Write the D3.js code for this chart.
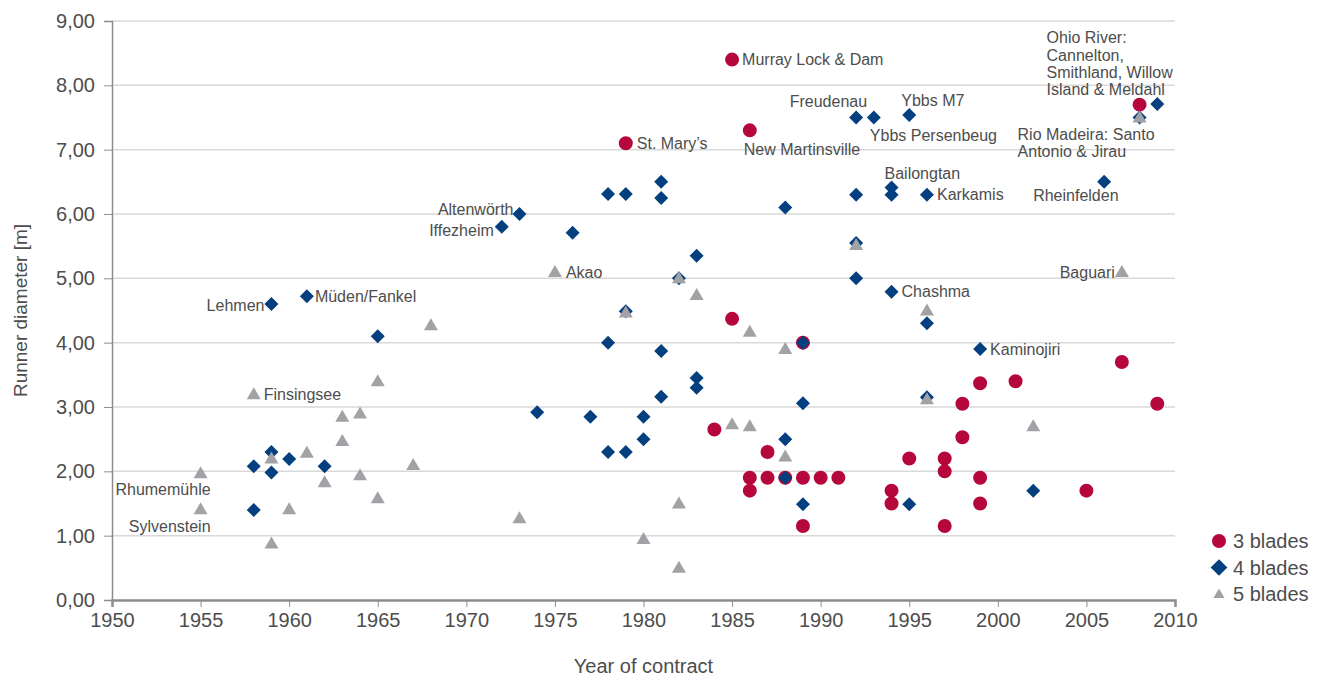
<!DOCTYPE html>
<html lang="en">
<head>
    <meta charset="utf-8" />
    <title>Runner diameter by year of contract</title>
    <script src="https://d3js.org/d3.v7.min.js"></script>
    <style>
        body {
            margin: 0;
            background: white;
        }
        text {
            font-family: 'Liberation Sans', Arial, sans-serif;
            fill: #4d4d4d;
        }
        .grid line {
            stroke: #d9d9d9;
            stroke-width: 1.5;
        }
        .axis path, .axis line {
            stroke: #8c8c8c;
        }
        .axis text {
            font-size: 20px;
            fill: #4d4d4d;
        }
        .note {
            font-size: 16px;
        }
    </style>
</head>
<body>
    <script>

        // Runner diameter [m] by year of contract, one list per blade count
        const threeBlades = [
            [1979, 7.1], [1985, 8.4], [1986, 7.3], [1985, 4.37], [1989, 4.0],
            [1984, 2.65], [1987, 2.3], [1986, 1.9], [1986, 1.7], [1987, 1.9],
            [1988, 1.9], [1989, 1.9], [1990, 1.9], [1991, 1.9], [1989, 1.15],
            [1994, 1.7], [1994, 1.5], [1995, 2.2], [1997, 2.2], [1997, 2.0],
            [1997, 1.15], [1998, 3.05], [1998, 2.53], [1999, 3.37], [1999, 1.9],
            [1999, 1.5], [2001, 3.4], [2005, 1.7], [2007, 3.7], [2008, 7.7],
            [2009, 3.05]
        ];

        const fourBlades = [
            [1958, 2.08], [1958, 1.4], [1959, 4.6], [1959, 2.3], [1959, 1.98],
            [1960, 2.19], [1961, 4.72], [1962, 2.08], [1965, 4.1], [1972, 5.8],
            [1973, 6.0], [1974, 2.92], [1976, 5.71], [1977, 2.85], [1978, 6.31],
            [1978, 4.0], [1978, 2.3], [1979, 6.31], [1979, 4.49], [1979, 2.3],
            [1980, 2.85], [1980, 2.5], [1981, 6.5], [1981, 6.25], [1981, 3.87],
            [1981, 3.16], [1982, 5.0], [1983, 5.35], [1983, 3.45], [1983, 3.3],
            [1988, 6.1], [1988, 2.5], [1988, 1.9], [1989, 4.0], [1989, 3.06],
            [1989, 1.49], [1992, 7.5], [1992, 6.3], [1992, 5.55], [1992, 5.0],
            [1993, 7.5], [1994, 6.41], [1994, 6.3], [1994, 4.79], [1995, 7.54],
            [1995, 1.49], [1996, 6.3], [1996, 4.3], [1996, 3.15], [1999, 3.9],
            [2002, 1.7], [2006, 6.5], [2008, 7.5], [2009, 7.71]
        ];

        const fiveBlades = [
            [1955, 1.97], [1955, 1.41], [1958, 3.2], [1959, 2.2], [1959, 0.88],
            [1960, 1.41], [1961, 2.29], [1962, 1.83], [1963, 2.85], [1963, 2.47],
            [1964, 2.9], [1964, 1.94], [1965, 3.4], [1965, 1.58], [1967, 2.1],
            [1968, 4.27], [1973, 1.27], [1975, 5.1], [1979, 4.47], [1980, 0.95],
            [1982, 5.0], [1982, 1.5], [1982, 0.5], [1983, 4.74], [1985, 2.73],
            [1986, 4.17], [1986, 2.7], [1988, 3.9], [1988, 2.23], [1992, 5.52],
            [1996, 4.5], [1996, 3.12], [2002, 2.7], [2007, 5.1], [2008, 7.5]
        ];

        const seriesNames = ["3 blades", "4 blades", "5 blades"];

        // Plant names written next to their points: [text lines, year, diameter]
        const plantNames = [
            [["Murray Lock & Dam"], 1985, 8.4],
            [["St. Mary’s"], 1979, 7.1],
            [["New Martinsville"], 1986, 7.3],
            [["Freudenau"], 1992, 7.5],
            [["Ybbs M7"], 1995, 7.54],
            [["Ybbs Persenbeug"], 1993, 7.5],
            [["Ohio River:", "Cannelton,", "Smithland, Willow", "Island & Meldahl"], 2008, 7.7],
            [["Rio Madeira: Santo", "Antonio & Jirau"], 2008, 7.5],
            [["Bailongtan"], 1994, 6.41],
            [["Karkamis"], 1996, 6.3],
            [["Rheinfelden"], 2006, 6.5],
            [["Baguari"], 2007, 5.1],
            [["Chashma"], 1994, 4.79],
            [["Kaminojiri"], 1999, 3.9],
            [["Akao"], 1975, 5.1],
            [["Altenwörth"], 1973, 6.0],
            [["Iffezheim"], 1972, 5.8],
            [["Lehmen"], 1959, 4.6],
            [["Müden/Fankel"], 1961, 4.72],
            [["Finsingsee"], 1958, 3.2],
            [["Rhumemühle"], 1955, 1.97],
            [["Sylvenstein"], 1955, 1.41]
        ];

        // where each name sits relative to its point (same order as plantNames)
        const namePlacement = [
            ["start", 10, 0], ["start", 11, 0], ["start", -6, 19], ["end", 11, -16],
            ["start", -8, -15], ["start", -4, 18], ["start", -93, -67], ["start", -122, 17],
            ["start", -7, -14], ["start", 10, 0], ["start", -71, 14], ["end", -7, 0],
            ["start", 10, 0], ["start", 10, 0], ["start", 11, 0], ["end", -6, -5],
            ["end", -8, 4], ["end", -7, 1], ["start", 8, 0], ["start", 10, 0],
            ["end", 10, 16], ["end", 10, 17]
        ];

        const width = 1327;
        const height = 681;
        const margin = { top: 21, right: 152, bottom: 81, left: 112 };

        const colors = ["#b5073b", "#043f7f", "#a2a2a6"];

        const svg = d3.select("body")
            .append("svg")
            .attr("width", width)
            .attr("height", height);

        const x = d3.scaleLinear()
            .domain([1950, 2010])
            .range([margin.left, width - margin.right]);

        const y = d3.scaleLinear()
            .domain([0, 9])
            .range([height - margin.bottom, margin.top]);

        // horizontal gridlines
        svg.append("g")
            .attr("class", "grid")
            .selectAll("line")
            .data(d3.range(1, 10))
            .join("line")
            .attr("x1", x(1950))
            .attr("x2", x(2010))
            .attr("y1", d => y(d))
            .attr("y2", d => y(d));

        // axes
        const yAxis = svg.append("g")
            .attr("class", "axis")
            .attr("transform", `translate(${x(1950)},0)`)
            .call(d3.axisLeft(y)
                .tickValues(d3.range(0, 10))
                .tickFormat(d => d.toFixed(2).replace(".", ","))
                .tickSize(8)
                .tickPadding(9));
        yAxis.select(".domain").attr("stroke-width", 1.5);
        yAxis.selectAll(".tick line").attr("stroke", "#c8c8c8");

        const xAxis = svg.append("g")
            .attr("class", "axis")
            .attr("transform", `translate(0,${y(0)})`)
            .call(d3.axisBottom(x)
                .tickValues(d3.range(1950, 2011, 5))
                .tickFormat(d3.format("d"))
                .tickSize(7)
                .tickPadding(6));
        xAxis.select(".domain").attr("stroke-width", 2.5);
        xAxis.selectAll(".tick line").attr("stroke", "#c8c8c8");

        // axis titles
        svg.append("text")
            .attr("x", (x(1950) + x(2010)) / 2)
            .attr("y", 673)
            .attr("text-anchor", "middle")
            .style("font-size", "20px")
            .text("Year of contract");

        svg.append("text")
            .attr("transform", `translate(27,${y(4.5)}) rotate(-90)`)
            .attr("text-anchor", "middle")
            .style("font-size", "19px")
            .text("Runner diameter [m]");

        // marker shapes
        const circle = d3.symbol().type(d3.symbolCircle).size(154)();
        const diamond = d3.symbol().type(d3.symbolSquare).size(98)();
        const triangle = "M0,-7L7,5L-7,5Z";
        const shapes = [circle, diamond, triangle];

        const allSeries = [threeBlades, fourBlades, fiveBlades];

        allSeries.forEach((series, i) => {
            svg.append("g")
                .selectAll("path")
                .data(series)
                .join("path")
                .attr("d", shapes[i])
                .attr("fill", colors[i])
                .attr("transform", d => `translate(${x(d[0])},${y(d[1])})` + (i === 1 ? " rotate(45)" : ""));
        });

        // plant names
        svg.append("g")
            .selectAll("text")
            .data(plantNames)
            .join("text")
            .attr("class", "note")
            .attr("text-anchor", (d, i) => namePlacement[i][0])
            .each(function (d, i) {
                const px = x(d[1]) + namePlacement[i][1];
                const py = y(d[2]) + namePlacement[i][2];
                d3.select(this).selectAll("tspan")
                    .data(d[0])
                    .join("tspan")
                    .attr("x", px)
                    .attr("y", (t, j) => py + j * 17.3)
                    .attr("dy", "0.35em")
                    .text(t => t);
            });

        // legend
        const legend = svg.append("g")
            .selectAll("g")
            .data(seriesNames)
            .join("g")
            .attr("transform", (d, i) => `translate(1219,${541 + i * 26.5})`);

        legend.append("path")
            .attr("d", (d, i) => i === 1 ? d3.symbol().type(d3.symbolSquare).size(140)() : shapes[i])
            .attr("transform", (d, i) => i === 1 ? "rotate(45)" : (i === 2 ? "scale(0.8)" : null))
            .attr("fill", (d, i) => colors[i]);

        legend.append("text")
            .attr("x", 14)
            .attr("dy", "0.35em")
            .style("font-size", "20px")
            .text(d => d);

    </script>
</body>
</html>
